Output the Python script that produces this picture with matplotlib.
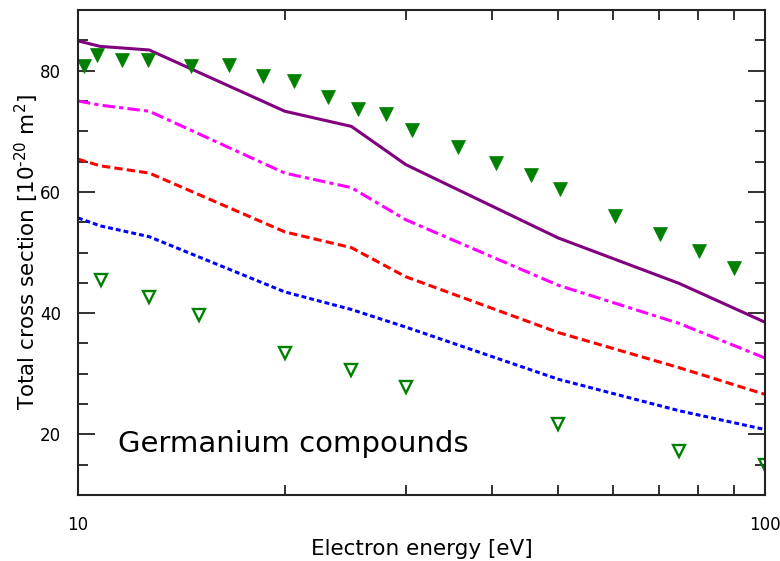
import matplotlib
matplotlib.use("Agg")
import matplotlib.pyplot as plt
from matplotlib.ticker import FixedLocator, NullFormatter

plt.rcParams['font.family'] = ['DejaVu Sans']
plt.rcParams['lines.scale_dashes'] = False

# Theory curves (common energies)
energy_theory = [10, 10.77, 12.7, 20, 25, 30, 50, 75, 100]
purple_vals = [84.9, 84.0, 83.4, 73.3, 70.8, 64.5, 52.4, 44.9, 38.5]
magenta_vals = [75.0, 74.3, 73.3, 63.1, 60.7, 55.4, 44.6, 38.3, 32.6]
red_vals = [65.4, 64.3, 63.1, 53.4, 50.8, 46.0, 36.8, 31.0, 26.6]
blue_vals = [55.7, 54.4, 52.6, 43.5, 40.6, 37.7, 29.1, 23.9, 20.8]

# Experimental: filled triangles
energy_filled = [10.2, 10.65, 11.6, 12.65, 14.6, 16.6, 18.6, 20.6, 23.1, 25.6,
                 28.1, 30.6, 35.7, 40.6, 45.6, 50.3, 60.5, 70.3, 80.2, 90.2]
vals_filled = [80.8, 82.6, 81.8, 81.8, 80.7, 81.0, 79.1, 78.3, 75.7, 73.7,
               72.9, 70.2, 67.4, 64.8, 62.8, 60.4, 56.0, 53.0, 50.3, 47.5]

# Experimental: open triangles
energy_open = [10.8, 12.7, 15.0, 20.0, 25.0, 30.0, 50.0, 75.0, 100.0]
vals_open = [45.4, 42.6, 39.7, 33.5, 30.7, 27.8, 21.7, 17.2, 15.0]

fig = plt.figure(figsize=(7.8, 5.61), dpi=100)
ax = fig.add_axes([0.1, 0.1176, 0.8808, 0.8646])

ax.plot(energy_theory, purple_vals, color='#800080', lw=2.2, solid_capstyle='butt')
ax.plot(energy_theory, magenta_vals, color='#ff00ff', lw=2.2, dashes=(9, 3, 3, 3))
ax.plot(energy_theory, red_vals, color='#ff0000', lw=2.2, dashes=(6, 3))
ax.plot(energy_theory, blue_vals, color='#0000ff', lw=2.2, dashes=(3.5, 2.2))

ax.plot(energy_filled, vals_filled, linestyle='none', marker='v', ms=9.5,
        color='#008000', mec='#008000', mew=0.5)
ax.plot(energy_open, vals_open, linestyle='none', marker='v', ms=9,
        mfc='none', mec='#008000', mew=1.7)

ax.set_xscale('log')
ax.set_xlim(10, 100)
ax.set_ylim(10, 90)

ax.xaxis.set_major_locator(FixedLocator([10, 100]))
ax.xaxis.set_minor_locator(FixedLocator([20, 30, 40, 50, 60, 70, 80, 90]))
ax.xaxis.set_minor_formatter(NullFormatter())
ax.set_xticklabels(['10', '100'])
ax.yaxis.set_major_locator(FixedLocator([20, 40, 60, 80]))
ax.yaxis.set_minor_locator(FixedLocator([15, 25, 30, 35, 45, 50, 55, 65, 70, 75, 85]))

ax.tick_params(which='both', direction='in', top=True, right=True,
               labelsize=12, color='#222222', width=1.3)
ax.tick_params(which='major', axis='y', length=12, pad=12)
ax.tick_params(which='major', axis='x', length=12, pad=15)
ax.tick_params(which='minor', length=7.5)

for s in ax.spines.values():
    s.set_linewidth(1.5)
    s.set_color('#222222')

ax.set_xlabel('Electron energy [eV]', fontsize=15.5, labelpad=4)
ax.set_ylabel('Total cross section [10$^{\\text{-}20}$ m$^{2}$]', fontsize=15.5, labelpad=-0.5)

ax.text(0.058, 0.106, 'Germanium compounds', transform=ax.transAxes,
        fontsize=21, va='center', ha='left')

fig.savefig('out.png', dpi=100)
